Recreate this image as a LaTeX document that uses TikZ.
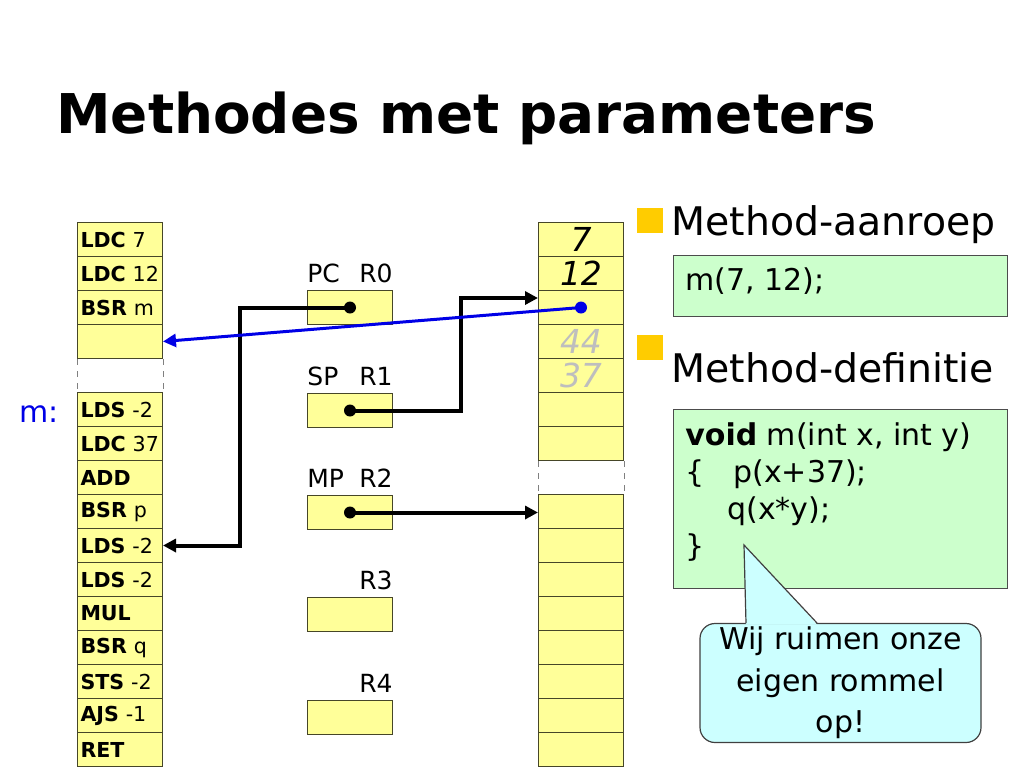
\documentclass[tikz,border=0pt]{standalone}
\usepackage{fontspec}
\setmainfont{DejaVu Sans}
\usepackage{tikz}
\usetikzlibrary{arrows.meta, calc}
\definecolor{cellYellow}{RGB}{255,255,153}
\definecolor{cellEdge}{RGB}{70,70,40}
\definecolor{codeGreen}{RGB}{204,255,204}
\definecolor{noteCyan}{RGB}{204,255,255}
\definecolor{bulletGold}{RGB}{255,204,0}
\definecolor{ptrBlue}{RGB}{0,0,230}
\definecolor{oldGray}{RGB}{190,190,190}
\tikzset{
  cell/.style={draw=cellEdge, fill=cellYellow, line width=0.5pt, anchor=north west,
    minimum width=42.5pt, minimum height=17pt, inner sep=0pt},
  instr/.style={cell, text width=39.5pt, inner xsep=1.5pt, align=left,
    font=\fontsize{10.3}{12}\selectfont},
  word/.style={cell, font=\fontsize{16.5}{18}\selectfont\itshape},
  reglbl/.style={inner sep=0pt, yshift=3.5pt, font=\fontsize{12.5}{14}\selectfont},
  ptr/.style={line width=2pt, -{Triangle[length=6.5pt, width=6.5pt]}},
  dot/.style={circle, fill, inner sep=0pt, minimum size=6pt},
  codebox/.style={draw=black!70, fill=codeGreen, line width=0.6pt, anchor=north west,
    inner sep=0pt, minimum width=167pt},
  bullet/.style={fill=bulletGold, anchor=north west, inner sep=0pt,
    minimum width=13pt, minimum height=12.5pt},
  bigtext/.style={anchor=base west, inner sep=0pt, font=\fontsize{19.7}{22}\selectfont},
}
\begin{document}
\begin{tikzpicture}[x=0.5pt, y=-0.5pt]
  \useasboundingbox (0,0) rectangle (1024,768);
  \node[anchor=base west, inner sep=0pt, font=\fontsize{27.4}{30}\selectfont\bfseries]
    (title) at (56,133) {Methodes met parameters};

  % program code
  \foreach \i/\t in {0/{\textbf{LDC} 7}, 1/{\textbf{LDC} 12}, 2/{\textbf{BSR} m}, 3/{},
      5/{\textbf{LDS} -2}, 6/{\textbf{LDC} 37}, 7/{\textbf{ADD}}, 8/{\textbf{BSR} p},
      9/{\textbf{LDS} -2}, 10/{\textbf{LDS} -2}, 11/{\textbf{MUL}}, 12/{\textbf{BSR} q},
      13/{\textbf{STS} -2}, 14/{\textbf{AJS} -1}, 15/{\textbf{RET}}}
    \node[instr] (prog\i) at (77,{222+34*\i}) {\t};
  \draw[dashed, black!50, line width=0.5pt] (prog3.south west) -- (prog5.north west)
    (prog3.south east) -- (prog5.north east);
  \node[anchor=base west, inner sep=0pt, text=ptrBlue, font=\fontsize{15}{18}\selectfont]
    (mlbl) at (19,422) {m:};

  % stack
  \foreach \i/\t in {0/7, 1/12, 2/{}, 3/{\textcolor{oldGray}{44}}, 4/{\textcolor{oldGray}{37}},
      5/{}, 6/{}, 8/{}, 9/{}, 10/{}, 11/{}, 12/{}, 13/{}, 14/{}, 15/{}}
    \node[word] (stk\i) at (538,{222+34*\i}) {\t};
  \draw[dashed, black!50, line width=0.5pt] (stk6.south west) -- (stk8.north west)
    (stk6.south east) -- (stk8.north east);

  % registers
  \foreach \i/\y in {0/290, 1/393, 2/495, 3/597, 4/700} {
    \node[cell] (r\i) at (307,\y) {};
    \node[reglbl, anchor=south east] (rlbl\i) at (r\i.north east) {R\i};
  }
  \node[reglbl, anchor=south west] (pclbl) at (r0.north west) {PC};
  \node[reglbl, anchor=south west] (splbl) at (r1.north west) {SP};
  \node[reglbl, anchor=south west] (mplbl) at (r2.north west) {MP};
  \node[dot] (pcdot) at (r0.center) {};
  \node[dot] (spdot) at (r1.center) {};
  \node[dot] (mpdot) at (r2.center) {};

  \coordinate (pcbend) at ($(prog9.east)+(77,0)$);
  \coordinate (sptip) at ($(stk2.north west)+(0,8)$);
  \coordinate (spbend) at ($(sptip)+(-77,0)$);
  \draw[ptr] (pcdot.center) -| (pcbend) -- (prog9.east);
  \draw[ptr] (spdot.center) -| (spbend) -- (sptip);
  \draw[ptr] (mpdot.center) -- (mpdot.center -| stk8.west);
  \node[dot, ptrBlue] (retdot) at (stk2.center) {};
  \draw[ptr, ptrBlue, line width=1.5pt] (retdot.center) -- (prog3.east);

  % right side
  \node[bullet] (bul1) at (637,208) {};
  \node[bigtext] (aanroep) at (671,235) {Method-aanroep};
  \node[codebox, minimum height=30.5pt] (callbox) at (673,255) {};
  \node[anchor=base west, inner sep=0pt, font=\fontsize{15}{18.5}\selectfont]
    (calltxt) at (685,290) {m(7, 12);};
  \node[bullet] (bul2) at (637,335) {};
  \node[bigtext] (definitie) at (671,382) {Method-definitie};
  \node[codebox, minimum height=89.5pt] (defbox) at (673,409) {};
  \node[anchor=north west, inner sep=0pt, align=left, font=\fontsize{15}{18.5}\selectfont]
    (deftxt) at (685,422) {\textbf{void} m(int x, int y)\\
      \{\hspace{14.5pt}p(x+37);\\\hspace*{21pt}q(x*y);\\\}};

  \node[draw=black!75, fill=noteCyan, rounded corners=7.5pt, line width=0.6pt,
    minimum width=140.5pt, minimum height=59.5pt, inner sep=0pt, align=center,
    font=\fontsize{15}{20.75}\selectfont] (note) at (840.5,683)
    {Wij ruimen onze\\eigen rommel\\op!};
  \coordinate (notetip) at (744,545);
  \coordinate (noteL) at (746,623);
  \coordinate (noteR) at (817,623);
  \fill[noteCyan] ($(noteL)+(0,1.5)$) -- (notetip) -- ($(noteR)+(0,1.5)$) -- cycle;
  \draw[black!75, line width=0.6pt] (noteL) -- (notetip) -- (noteR);
\end{tikzpicture}
\end{document}
